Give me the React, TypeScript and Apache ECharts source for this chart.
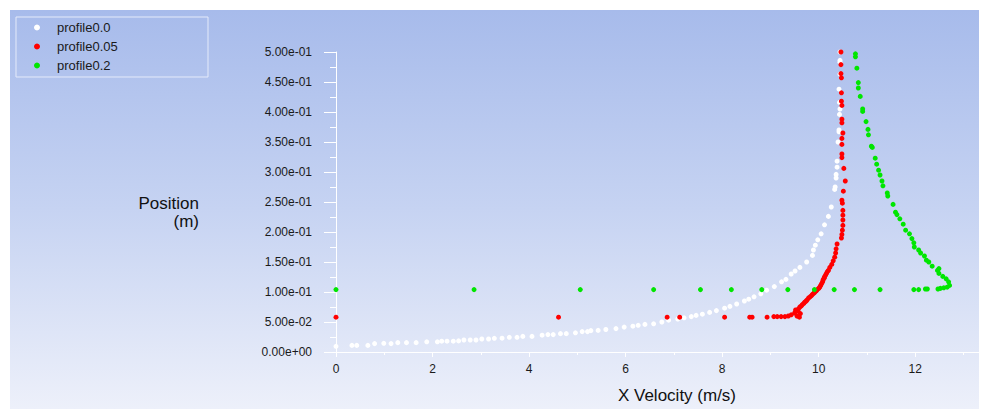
import React, { useEffect, useRef } from "react";
import * as echarts from "echarts";

// ---------- data ----------
const seriesNames = ["profile0.0", "profile0.05", "profile0.2"];
const seriesColors = ["#ffffff", "#ff0000", "#00e600"];

const xMajorTicks = [0, 2, 4, 6, 8, 10, 12];
const xMinorTicks = [1, 3, 5, 7, 9, 11, 13];

// profile0.0 : [X Velocity (m/s), Position (m)]
const profile00: [number, number][] = [
  [0, 0.0095], [0.33, 0.011], [0.43, 0.011], [0.66, 0.011], [0.8, 0.014], [0.99, 0.0145],
  [1.14, 0.014], [1.28, 0.0156], [1.46, 0.0156], [1.66, 0.0156], [1.88, 0.017], [2.1, 0.017],
  [2.19, 0.018], [2.3, 0.018], [2.43, 0.018], [2.54, 0.0185], [2.65, 0.02], [2.78, 0.02],
  [2.9, 0.02], [3.02, 0.0217], [3.16, 0.0217], [3.28, 0.0228], [3.44, 0.023], [3.59, 0.0245],
  [3.75, 0.0245], [3.87, 0.026], [4.06, 0.026], [4.27, 0.028], [4.39, 0.029], [4.5, 0.029],
  [4.65, 0.0306], [4.77, 0.0306], [4.96, 0.032], [5.1, 0.034], [5.21, 0.034], [5.28, 0.0356],
  [5.43, 0.036], [5.59, 0.0375], [5.8, 0.039], [5.97, 0.0415], [6.15, 0.043], [6.26, 0.0445],
  [6.4, 0.046], [6.58, 0.047], [6.75, 0.05], [6.89, 0.053], [7.08, 0.055], [7.21, 0.057],
  [7.36, 0.059], [7.46, 0.061], [7.59, 0.063], [7.74, 0.066], [7.88, 0.069], [8.05, 0.073],
  [8.16, 0.076], [8.3, 0.08], [8.46, 0.085], [8.55, 0.088], [8.66, 0.092], [8.8, 0.097],
  [8.92, 0.103], [9.08, 0.109], [9.23, 0.117], [9.32, 0.121], [9.43, 0.13], [9.51, 0.135],
  [9.61, 0.141], [9.75, 0.15], [9.87, 0.161], [9.89, 0.17], [9.93, 0.178], [9.98, 0.187],
  [10.05, 0.197], [10.12, 0.212], [10.2, 0.226], [10.26, 0.2417], [10.33, 0.271], [10.34, 0.275],
  [10.36, 0.29], [10.36, 0.296], [10.38, 0.308], [10.38, 0.318], [10.4, 0.35], [10.42, 0.367],
  [10.42, 0.37], [10.43, 0.396], [10.44, 0.405], [10.43, 0.416], [10.42, 0.438], [10.44, 0.463],
  [10.44, 0.483], [10.44, 0.486], [10.44, 0.5],
];

// profile0.05
const profile005: [number, number][] = [
  [0, 0.058], [4.61, 0.058], [6.86, 0.058], [7.12, 0.058], [8.05, 0.058], [8.57, 0.058],
  [8.62, 0.058], [8.93, 0.058], [9.07, 0.059], [9.14, 0.059], [9.22, 0.059], [9.3, 0.059],
  [9.37, 0.06], [9.43, 0.062], [9.5, 0.065], [9.55, 0.06], [9.6, 0.058], [9.62, 0.064],
  [9.57, 0.068], [9.52, 0.07], [9.58, 0.072], [9.61, 0.075], [9.64, 0.077], [9.66, 0.079],
  [9.69, 0.081], [9.71, 0.083], [9.74, 0.085], [9.76, 0.087], [9.79, 0.09], [9.82, 0.092],
  [9.85, 0.094], [9.87, 0.096], [9.9, 0.098], [9.92, 0.1], [9.95, 0.102], [9.97, 0.104],
  [10.0, 0.106], [10.02, 0.108], [10.04, 0.111], [10.06, 0.114], [10.08, 0.117], [10.09, 0.12],
  [10.11, 0.123], [10.12, 0.125], [10.14, 0.128], [10.16, 0.131], [10.18, 0.134], [10.2, 0.136],
  [10.23, 0.141], [10.27, 0.146], [10.3, 0.152], [10.33, 0.158], [10.35, 0.165], [10.36, 0.172],
  [10.38, 0.18], [10.47, 0.19], [10.48, 0.196], [10.49, 0.203], [10.5, 0.211], [10.5, 0.22],
  [10.5, 0.228], [10.5, 0.236], [10.49, 0.248], [10.48, 0.253], [10.51, 0.268], [10.55, 0.285],
  [10.52, 0.306], [10.48, 0.324], [10.48, 0.33], [10.48, 0.346], [10.48, 0.356], [10.5, 0.365],
  [10.48, 0.382], [10.48, 0.388], [10.48, 0.411], [10.47, 0.418], [10.47, 0.432], [10.47, 0.457],
  [10.46, 0.464], [10.46, 0.479], [10.46, 0.5],
];

// profile0.2
const profile02: [number, number][] = [
  [0, 0.104], [2.86, 0.104], [5.06, 0.104], [6.58, 0.104], [7.55, 0.104], [8.19, 0.104],
  [8.82, 0.104], [9.36, 0.104], [9.91, 0.104], [10.32, 0.104], [10.74, 0.104], [11.27, 0.104],
  [11.97, 0.104], [12.07, 0.104], [12.21, 0.105], [12.25, 0.105], [12.47, 0.105], [12.52, 0.106],
  [12.59, 0.107], [12.66, 0.108], [12.71, 0.111], [12.69, 0.117], [12.64, 0.122], [12.57, 0.126],
  [12.49, 0.131], [12.49, 0.139], [12.46, 0.136], [12.35, 0.143], [12.28, 0.15], [12.23, 0.153],
  [12.19, 0.16], [12.11, 0.165], [12.07, 0.17], [11.98, 0.175], [11.97, 0.182], [11.93, 0.189],
  [11.88, 0.197], [11.8, 0.203], [11.75, 0.213], [11.68, 0.222], [11.62, 0.229], [11.59, 0.233],
  [11.54, 0.246], [11.43, 0.26], [11.42, 0.265], [11.33, 0.277], [11.31, 0.285], [11.27, 0.295],
  [11.24, 0.303], [11.2, 0.313], [11.17, 0.323], [11.11, 0.341], [11.09, 0.343], [11.03, 0.362],
  [11.02, 0.371], [10.98, 0.384], [10.91, 0.401], [10.91, 0.405], [10.86, 0.426], [10.82, 0.44],
  [10.82, 0.449], [10.79, 0.473], [10.76, 0.492], [10.76, 0.497], [10.74, 0.501],
];

const seriesData = [profile00, profile005, profile02];

const FONT = '"Liberation Sans", Arial, Helvetica, sans-serif';

function expLabel(v: number): string {
  const s = v.toExponential(2);
  const m = s.match(/^(-?\d\.\d+)e([+-])(\d+)$/);
  if (!m) return s;
  return `${m[1]}e${m[2]}${m[3].padStart(2, "0")}`;
}

export default function App() {
  const ref = useRef<HTMLDivElement>(null);

  useEffect(() => {
    if (!ref.current) return;
    const chart = echarts.init(ref.current, undefined, { renderer: "svg" });

    const option: any = {
      animation: false,
      backgroundColor: "#ffffff",
      textStyle: { fontFamily: FONT },
      grid: { left: 336, top: 52, width: 643, height: 300, containLabel: false },
      legend: {
        orient: "vertical",
        left: 34,
        top: 21,
        padding: 0,
        itemWidth: 30,
        itemHeight: 6,
        itemGap: 6,
        icon: "circle",
        data: seriesNames,
        textStyle: { fontSize: 13, color: "#1a1a1a", fontFamily: FONT, lineHeight: 13 },
      },
      xAxis: [
        {
          type: "value",
          min: 0,
          max: 13.32,
          position: "bottom",
          axisLine: { show: true, lineStyle: { color: "#ffffff", width: 1 } },
          axisTick: { show: true, length: 5, customValues: xMajorTicks, lineStyle: { color: "#ffffff" } },
          axisLabel: {
            customValues: xMajorTicks,
            margin: 11,
            fontSize: 12,
            color: "#1a1a1a",
            fontFamily: FONT,
          },
          splitLine: { show: false },
        },
        {
          type: "value",
          min: 0,
          max: 13.32,
          position: "bottom",
          offset: 0,
          axisLine: { show: false },
          axisTick: { show: true, length: 3, customValues: xMinorTicks, lineStyle: { color: "#ffffff" } },
          axisLabel: { show: false },
          splitLine: { show: false },
        },
      ],
      yAxis: {
        type: "value",
        min: 0,
        max: 0.5,
        interval: 0.05,
        axisLine: { show: true, lineStyle: { color: "#ffffff", width: 1 } },
        axisTick: { show: true, length: 12, lineStyle: { color: "#ffffff" } },
        minorTick: { show: true, splitNumber: 2, length: 6, lineStyle: { color: "#ffffff" } },
        axisLabel: {
          margin: 24,
          fontSize: 12,
          color: "#1a1a1a",
          fontFamily: FONT,
          formatter: (v: number) => expLabel(v),
        },
        splitLine: { show: false },
      },
      graphic: [
        {
          type: "rect",
          z: -100,
          silent: true,
          shape: { x: 10, y: 10, width: 969, height: 399 },
          style: {
            fill: new echarts.graphic.LinearGradient(0, 0, 0, 1, [
              { offset: 0, color: "#a7bbeb" },
              { offset: 0.5, color: "#c6d3f2" },
              { offset: 1, color: "#edf0fa" },
            ]),
          },
        },
        {
          type: "rect",
          z: 1,
          silent: true,
          shape: { x: 16, y: 17, width: 192, height: 60 },
          style: { fill: "none", stroke: "#e4eafa", lineWidth: 1 },
        },
        {
          type: "text",
          z: 5,
          x: 199,
          y: 203,
          style: {
            text: "Position",
            align: "right",
            verticalAlign: "middle",
            fontSize: 17,
            fontFamily: FONT,
            fill: "#111111",
          },
        },
        {
          type: "text",
          z: 5,
          x: 199,
          y: 221,
          style: {
            text: "(m)",
            align: "right",
            verticalAlign: "middle",
            fontSize: 17,
            fontFamily: FONT,
            fill: "#111111",
          },
        },
        {
          type: "text",
          z: 5,
          x: 677,
          y: 395,
          style: {
            text: "X Velocity (m/s)",
            align: "center",
            verticalAlign: "middle",
            fontSize: 17,
            fontFamily: FONT,
            fill: "#111111",
          },
        },
      ],
      series: seriesNames.map((name, i) => ({
        name,
        type: "scatter",
        xAxisIndex: 0,
        yAxisIndex: 0,
        symbol: "circle",
        symbolSize: 5,
        itemStyle: { color: seriesColors[i], opacity: 1 },
        emphasis: { disabled: true },
        data: seriesData[i],
      })),
    };

    chart.setOption(option);
    return () => {
      chart.dispose();
    };
  }, []);

  return (
    <div
      ref={ref}
      style={{ position: "fixed", left: 0, top: 0, width: 983, height: 409, background: "#ffffff" }}
    />
  );
}
